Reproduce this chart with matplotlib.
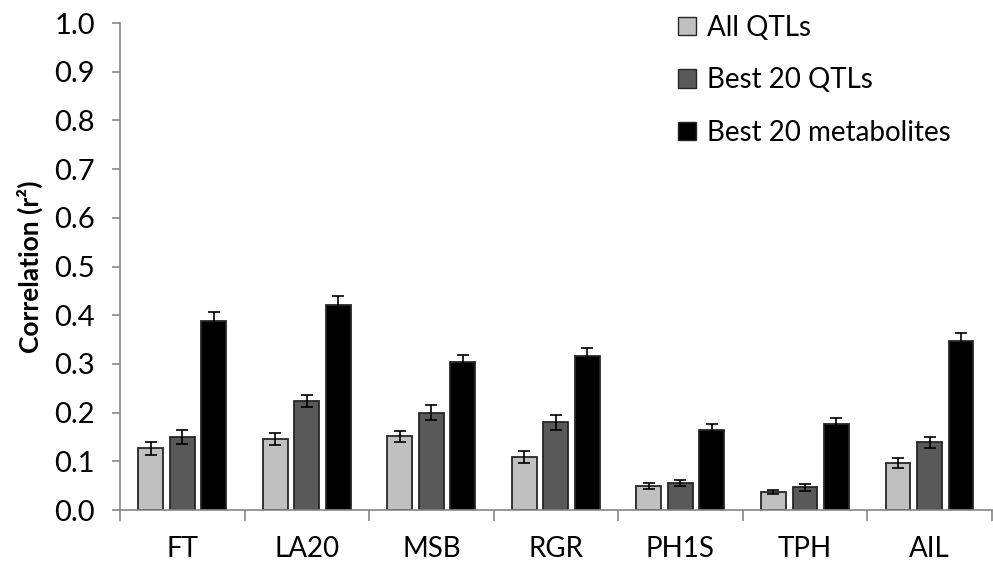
import numpy as np
import matplotlib
matplotlib.use('Agg')
from matplotlib import pyplot as plt
from matplotlib.patches import Patch

# data
traits = ['FT', 'LA20', 'MSB', 'RGR', 'PH1S', 'TPH', 'AIL']
all_qtl = [0.127, 0.146, 0.151, 0.109, 0.050, 0.037, 0.097]
all_qtl_err = [0.013, 0.013, 0.012, 0.012, 0.006, 0.005, 0.010]
best_qtl = [0.150, 0.224, 0.200, 0.180, 0.056, 0.047, 0.139]
best_qtl_err = [0.014, 0.012, 0.016, 0.015, 0.006, 0.007, 0.011]
best_met = [0.389, 0.422, 0.303, 0.317, 0.165, 0.176, 0.348]
best_met_err = [0.017, 0.017, 0.016, 0.015, 0.012, 0.012, 0.015]

series = ['All QTLs', 'Best 20 QTLs', 'Best 20 metabolites']
colors = ['#c0c0c0', '#595959', '#000000']

plt.rcParams['font.family'] = ['Lato', 'DejaVu Sans']

def main():
	fig = plt.figure(figsize=(9.93, 5.64), dpi=100)
	ax = fig.add_axes([0.1208, 0.0957, 0.878, 0.8635])

	x = np.arange(len(traits))
	w = 0.2
	off = 0.253
	vals = [all_qtl, best_qtl, best_met]
	errs = [all_qtl_err, best_qtl_err, best_met_err]
	for i in range(3):
		ax.bar(x + (i - 1) * off, vals[i], w, color=colors[i], edgecolor='#262626',
			   linewidth=1.3, yerr=errs[i], capsize=4.5,
			   error_kw=dict(ecolor='black', elinewidth=1.2, capthick=1.2), zorder=2)

	ax.set_xlim(-0.5, len(traits) - 0.5)
	ax.set_ylim(0, 1.0)
	ax.set_yticks(np.arange(0, 1.01, 0.1))
	ax.set_yticklabels(['%.1f' % v for v in np.arange(0, 1.01, 0.1)], fontsize=21)
	ax.set_xticks(x)
	ax.set_xticklabels(traits, fontsize=20)
	ax.set_xticks(np.arange(-0.5, len(traits), 1.0), minor=True)
	ax.tick_params(axis='x', which='major', length=0, pad=19)
	ax.tick_params(axis='x', which='minor', length=8, color='#868686', width=1.2)
	ax.tick_params(axis='y', length=6, color='#868686', width=1.2, pad=12)
	for s in ['top', 'right']:
		ax.spines[s].set_visible(False)
	for s in ['left', 'bottom']:
		ax.spines[s].set_color('#868686')
		ax.spines[s].set_linewidth(1.2)
	ax.set_ylabel('Correlation (r²)', fontsize=19, fontweight='bold', labelpad=8)

	handles = [Patch(facecolor=c, edgecolor='#262626', linewidth=1.0) for c in colors]
	ax.legend(handles, series, loc='upper left', bbox_to_anchor=(0.611, 1.068),
			  frameon=False, fontsize=20, handlelength=0.65, handleheight=0.65,
			  handletextpad=0.4, labelspacing=0.95)

	fig.savefig('out.png', dpi=100)

if __name__ == '__main__':
	main()
